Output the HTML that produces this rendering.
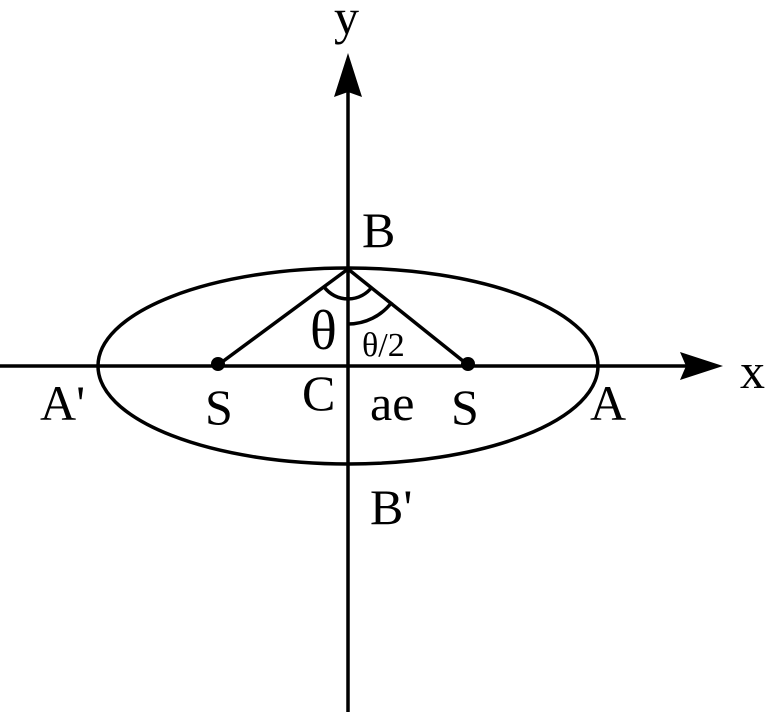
<!DOCTYPE html>
<html><head><style>body{margin:0;background:#fff}svg{display:block}</style></head><body>
<svg width="766" height="712" viewBox="0 0 766 712" xmlns="http://www.w3.org/2000/svg" font-family="Liberation Serif, serif" fill="#000">
<g stroke="#000" stroke-width="3.5" fill="none">
<line x1="348" y1="90" x2="348" y2="712"/>
<line x1="0" y1="366" x2="690" y2="366"/>
<ellipse cx="348" cy="366" rx="250" ry="98"/>
<line x1="348" y1="269" x2="218" y2="365"/>
<line x1="348" y1="269" x2="468" y2="365"/>
<path d="M324.5,287.5 A30,30 0 0 0 372,287"/>
<path d="M348,324 A55,55 0 0 0 392,302"/>
</g>
<path d="M348,53 L362,97 L348,92 L334,97 Z"/>
<path d="M723,366 L680,352 L686,366 L680,380 Z"/>
<circle cx="218" cy="364" r="7"/>
<circle cx="468" cy="364" r="7"/>
<g font-size="50">
<text x="334" y="34">y</text>
<text x="740" y="388">x</text>
<text x="362" y="247">B</text>
<text x="310" y="349" font-size="56">θ</text>
<text x="362" y="356" font-size="34">θ/2</text>
<text x="40" y="420">A'</text>
<text x="205" y="424">S</text>
<text x="302" y="410">C</text>
<text x="370" y="420">ae</text>
<text x="451" y="424">S</text>
<text x="590" y="420">A</text>
<text x="370" y="524">B'</text>
</g>
</svg>
</body></html>
